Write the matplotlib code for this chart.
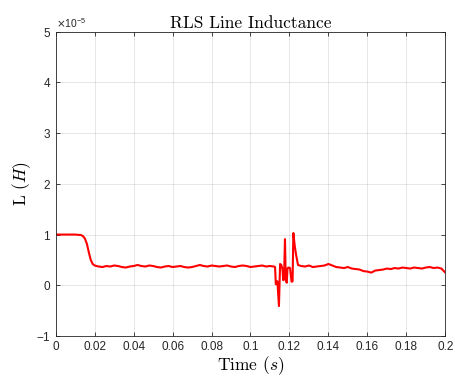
import matplotlib
matplotlib.use("Agg")
import matplotlib.pyplot as plt
from matplotlib.ticker import ScalarFormatter

# time (s) and estimated inductance (units of 1e-5 H)
time = [
    0.000, 0.005, 0.010, 0.013, 0.014, 0.015, 0.016, 0.017, 0.018, 0.019, 0.020, 0.021,
    0.022, 0.024, 0.026, 0.028, 0.030, 0.032, 0.034, 0.036, 0.038, 0.040,
    0.042, 0.044, 0.046, 0.048, 0.050, 0.052, 0.054, 0.056, 0.058, 0.060,
    0.062, 0.064, 0.066, 0.068, 0.070, 0.072, 0.074, 0.076, 0.078, 0.080,
    0.082, 0.084, 0.086, 0.088, 0.090, 0.092, 0.094, 0.096, 0.098, 0.100,
    0.102, 0.104, 0.106, 0.108, 0.110, 0.112,
    0.1126, 0.1130, 0.1138, 0.1146, 0.1152, 0.1158, 0.1164, 0.1168, 0.1172,
    0.1177, 0.1181, 0.1186, 0.1190, 0.1194, 0.1203, 0.1211, 0.1216, 0.1220,
    0.1227, 0.1234, 0.1244, 0.1260,
    0.128, 0.130, 0.132, 0.134, 0.136, 0.138, 0.140, 0.142, 0.144, 0.146,
    0.148, 0.150, 0.152, 0.154, 0.156, 0.158, 0.160, 0.162, 0.164, 0.166,
    0.168, 0.170, 0.172, 0.174, 0.176, 0.178, 0.180, 0.182, 0.184, 0.186,
    0.188, 0.190, 0.192, 0.194, 0.196, 0.198, 0.200,
]
inductance = [
    1.00, 1.00, 1.00, 0.99, 0.97, 0.92, 0.82, 0.65, 0.50, 0.42, 0.39, 0.38,
    0.37, 0.36, 0.38, 0.37, 0.39, 0.38, 0.36, 0.35, 0.37, 0.38,
    0.40, 0.38, 0.37, 0.39, 0.38, 0.36, 0.35, 0.37, 0.38, 0.36,
    0.37, 0.38, 0.36, 0.35, 0.36, 0.38, 0.40, 0.38, 0.37, 0.39,
    0.38, 0.37, 0.38, 0.39, 0.37, 0.36, 0.38, 0.39, 0.38, 0.36,
    0.37, 0.38, 0.39, 0.37, 0.38, 0.37,
    0.36, 0.02, 0.08, -0.41, 0.42, 0.40, 0.32, 0.10, 0.12,
    0.91, 0.10, 0.05, 0.33, 0.35, 0.34, 0.07, 0.08, 1.03,
    0.78, 0.60, 0.40, 0.38,
    0.37, 0.39, 0.36, 0.37, 0.38, 0.39, 0.42, 0.39, 0.36, 0.35,
    0.34, 0.36, 0.33, 0.32, 0.31, 0.28, 0.27, 0.25, 0.29, 0.30,
    0.31, 0.33, 0.32, 0.34, 0.33, 0.35, 0.34, 0.33, 0.35, 0.34,
    0.33, 0.35, 0.36, 0.34, 0.35, 0.33, 0.25,
]

x_ticks = [0, 0.02, 0.04, 0.06, 0.08, 0.1, 0.12, 0.14, 0.16, 0.18, 0.2]
x_tick_labels = ["0", "0.02", "0.04", "0.06", "0.08", "0.1", "0.12", "0.14", "0.16", "0.18", "0.2"]
y_ticks = [-1, 0, 1, 2, 3, 4, 5]

plt.rcParams["mathtext.fontset"] = "cm"
axis_color = "#262626"

fig = plt.figure(figsize=(4.56, 3.79), dpi=100)
ax = fig.add_axes([55.7 / 456, 1 - 336 / 379, 389.6 / 456, 304.3 / 379])

ax.plot(time, [v * 1e-5 for v in inductance], color="#ff0000", linewidth=1.5)

ax.set_xlim(0, 0.2)
ax.set_ylim(-1e-5, 5e-5)
ax.set_xticks(x_ticks)
ax.set_xticklabels(x_tick_labels)
ax.set_yticks([v * 1e-5 for v in y_ticks])

fmt = ScalarFormatter(useMathText=True)
fmt.set_powerlimits((0, 0))
ax.yaxis.set_major_formatter(fmt)
offset = ax.yaxis.get_offset_text()
offset.set_fontsize(7.5)
offset.set_color(axis_color)
offset.set_family("Liberation Sans")
offset.set_math_fontfamily("dejavusans")

ax.grid(True, color="#262626", alpha=0.13, linewidth=0.6)
ax.tick_params(direction="in", top=True, right=True, length=3, width=0.6,
               colors=axis_color, labelsize=8.5)
for lab in ax.get_xticklabels() + ax.get_yticklabels():
    lab.set_family("Liberation Sans")
for spine in ax.spines.values():
    spine.set_color(axis_color)
    spine.set_linewidth(0.6)

ax.set_title("RLS Line Inductance", fontfamily="cmr10", fontsize=12.5, pad=3)
ax.set_xlabel(r"Time $(s)$", fontfamily="cmr10", fontsize=12.5, labelpad=1)
ax.set_ylabel(r"L $(H)$", fontfamily="cmr10", fontsize=12.5, labelpad=2)

fig.savefig("out.png", dpi=100)
